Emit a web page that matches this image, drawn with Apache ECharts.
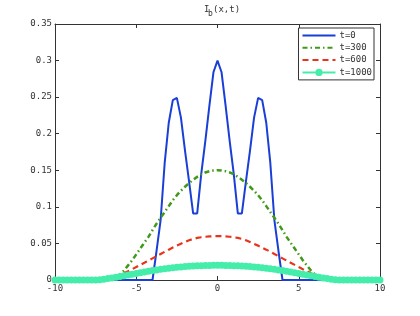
<!DOCTYPE html>
<html>
<head>
<meta charset="utf-8">
<script src="https://cdn.jsdelivr.net/npm/echarts@6/dist/echarts.min.js"></script>
<style>
html,body{margin:0;padding:0;background:#fff;}
#c{width:420px;height:316px;}
</style>
</head>
<body>
<div id="c"></div>
<script>
// x grid
var xs = [-10,-9.75,-9.5,-9.25,-9,-8.75,-8.5,-8.25,-8,-7.75,-7.5,-7.25,-7,-6.75,-6.5,-6.25,-6,-5.75,-5.5,-5.25,-5,-4.75,-4.5,-4.25,-4,-3.75,-3.5,-3.25,-3,-2.75,-2.5,-2.25,-2,-1.75,-1.5,-1.25,-1,-0.75,-0.5,-0.25,0,0.25,0.5,0.75,1,1.25,1.5,1.75,2,2.25,2.5,2.75,3,3.25,3.5,3.75,4,4.25,4.5,4.75,5,5.25,5.5,5.75,6,6.25,6.5,6.75,7,7.25,7.5,7.75,8,8.25,8.5,8.75,9,9.25,9.5,9.75,10];

var seriesNames = ['t=0','t=300','t=600','t=1000'];

var u0 = [0,0,0,0,0,0,0,0,0,0,0,0,0,0,0,0,0,0,0,0,0,0,0,0,0,
  0.04,0.082,0.160,0.215,0.246,0.249,0.222,0.177,0.135,0.091,0.091,0.145,0.19,0.238,0.284,
  0.300,
  0.284,0.238,0.19,0.145,0.091,0.091,0.135,0.177,0.222,0.249,0.246,0.215,0.160,0.082,0.04,
  0,0,0,0,0,0,0,0,0,0,0,0,0,0,0,0,0,0,0,0,0,0,0,0,0];

var u300 = [0,0,0,0,0,0,0,0,0,0,0,0,0,0,
  0.001,0.0035,0.0075,0.013,0.020,0.027,0.035,0.043,0.051,0.059,0.068,0.077,0.085,0.093,0.101,0.109,0.116,0.122,0.1275,0.1325,0.137,0.141,0.1445,0.147,0.1487,0.1497,
  0.150,
  0.1497,0.1487,0.147,0.1445,0.141,0.137,0.1325,0.1275,0.122,0.116,0.109,0.101,0.093,0.085,0.077,0.068,0.059,0.051,0.043,0.035,0.027,0.020,0.013,0.0075,0.0035,0.001,
  0,0,0,0,0,0,0,0,0,0,0,0,0,0];

var u600 = [0,0,0,0,0,0,0,0,0,0,0,0,
  0.0002,0.001,0.0024,0.0043,0.0066,0.0092,0.012,0.0148,0.0177,0.0207,0.0236,0.0266,0.0296,0.0326,0.0356,0.0386,0.0415,0.0443,0.047,0.0495,0.052,0.0544,0.0562,0.0575,0.0585,0.0591,0.0596,0.0599,
  0.060,
  0.0599,0.0596,0.0591,0.0585,0.0575,0.0562,0.0544,0.052,0.0495,0.047,0.0443,0.0415,0.0386,0.0356,0.0326,0.0296,0.0266,0.0236,0.0207,0.0177,0.0148,0.012,0.0092,0.0066,0.0043,0.0024,0.001,0.0002,
  0,0,0,0,0,0,0,0,0,0,0,0];

var u1000 = [0,0,0,0,0,0,0,0,0,0,0,
  0.0003,0.0010,0.0019,0.0029,0.0039,0.0049,0.0059,0.0069,0.0080,0.0090,0.0100,0.0110,0.0120,0.0129,0.0138,0.0146,0.0154,0.0161,0.0168,0.0174,0.0179,0.0184,0.0188,0.0191,0.0194,0.0196,0.0198,0.0199,0.0200,
  0.0200,
  0.0200,0.0199,0.0198,0.0196,0.0194,0.0191,0.0188,0.0184,0.0179,0.0174,0.0168,0.0161,0.0154,0.0146,0.0138,0.0129,0.0120,0.0110,0.0100,0.0090,0.0080,0.0069,0.0059,0.0049,0.0039,0.0029,0.0019,0.0010,0.0003,
  0,0,0,0,0,0,0,0,0,0,0];

var xTicks = [-10,-5,0,5,10];
var yTicks = [0,0.05,0.1,0.15,0.2,0.25,0.3,0.35];

function pairs(vals){ return xs.map(function(x,i){ return [x, vals[i]]; }); }

var MONO = '"DejaVu Sans Mono", "Liberation Mono", monospace';
var axisColor = '#333';

function xAx(pos, showLabel){
  return {type:'value', position:pos, min:xTicks[0], max:xTicks[xTicks.length-1], interval:5,
    axisLine:{show:true, onZero:false, lineStyle:{color:axisColor, width:1}},
    axisTick:{show:true, inside:true, length:4, lineStyle:{color:axisColor}},
    axisLabel:{show:showLabel, color:'#333', fontFamily:MONO, fontSize:9, margin:4},
    splitLine:{show:false}};
}
function yAx(pos, showLabel){
  return {type:'value', position:pos, min:yTicks[0], max:yTicks[yTicks.length-1], interval:0.05,
    axisLine:{show:true, onZero:false, lineStyle:{color:axisColor, width:1}},
    axisTick:{show:true, inside:true, length:4, lineStyle:{color:axisColor}},
    axisLabel:{show:showLabel, color:'#333', fontFamily:MONO, fontSize:9, margin:3,
      formatter:function(v){ return String(parseFloat(v.toFixed(2))); }},
    splitLine:{show:false}};
}

var noSym = {opacity:0, color:'rgba(0,0,0,0)', borderWidth:0};

var chart = echarts.init(document.getElementById('c'), null, {renderer:'canvas'});
chart.setOption({
  animation:false,
  backgroundColor:'#fff',
  grid:{left:55, right:40, top:24, bottom:36, containLabel:false},
  xAxis:[xAx('bottom', true), xAx('top', false)],
  yAxis:[yAx('left', true), yAx('right', false)],
  graphic:[
    {type:'text', left:204, top:5, style:{text:'I', font:'9px '+MONO, fill:'#333'}},
    {type:'text', left:208, top:10, style:{text:'b', font:'8px '+MONO, fill:'#333'}},
    {type:'text', left:213, top:5, style:{text:'(x,t)', font:'9px '+MONO, fill:'#333'}}
  ],
  legend:{
    orient:'vertical', right:46, top:28,
    backgroundColor:'#fff', borderColor:'#333', borderWidth:1,
    padding:[3,2,3,3], itemWidth:33, itemHeight:9, itemGap:3.3,
    textStyle:{fontFamily:MONO, fontSize:9, color:'#333', padding:[0,0,0,-1]},
    data:[
      {name:seriesNames[0], itemStyle:noSym},
      {name:seriesNames[1], itemStyle:noSym},
      {name:seriesNames[2], itemStyle:noSym},
      {name:seriesNames[3]}
    ]
  },
  series:[
    {name:seriesNames[0], type:'line', data:pairs(u0), showSymbol:false, symbol:'none',
      lineStyle:{color:'#1a3fd6', width:2}, itemStyle:{color:'#1a3fd6'}},
    {name:seriesNames[1], type:'line', data:pairs(u300), showSymbol:false, symbol:'none',
      lineStyle:{color:'#3f9a1a', width:2.5, type:[5,3,1.5,3]}, itemStyle:{color:'#3f9a1a'}},
    {name:seriesNames[2], type:'line', data:pairs(u600), showSymbol:false, symbol:'none',
      lineStyle:{color:'#e8341a', width:2.2, type:[6,4]}, itemStyle:{color:'#e8341a'}},
    {name:seriesNames[3], type:'line', data:pairs(u1000), symbol:'circle', symbolSize:7, showSymbol:true,
      lineStyle:{color:'#44eeaa', width:4}, itemStyle:{color:'#44eeaa'}}
  ]
});
</script>
</body>
</html>
